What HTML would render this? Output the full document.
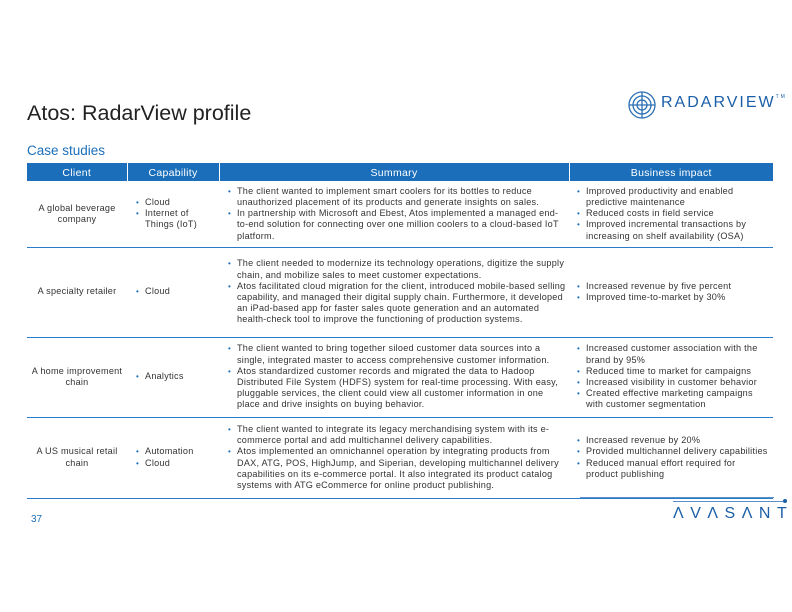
<!DOCTYPE html>
<html><head><meta charset="utf-8"><style>
body{margin:0;width:792px;height:612px;background:#fff;position:relative;overflow:hidden;font-family:"Liberation Sans",sans-serif;color:#333}
.a{position:absolute}
table{position:absolute;left:27px;top:163px;width:746px;border-collapse:collapse;font-size:9.1px;line-height:11.2px;letter-spacing:0.25px;table-layout:fixed}
th{background:#1b6fba;color:#fff;font-weight:normal;font-size:10.5px;height:16px;padding:2px 0 0 0;border-left:1.5px solid #fff;vertical-align:middle;letter-spacing:0.3px;line-height:14px}
th:first-child{border-left:none}
td{border-bottom:1.5px solid #2a7cc7;vertical-align:middle;padding:0 3px}
td.c{text-align:center}
ul{margin:0;padding:0 0 0 10px;list-style:none}
li{position:relative}
li:before{content:"•";position:absolute;left:-9px;color:#1b6fba;font-size:8px}
</style></head><body>
<div class="a" style="left:27px;top:101px;font-size:21.5px;color:#222">Atos: RadarView profile</div>
<div class="a" style="left:27px;top:143px;font-size:13.5px;color:#1b6fba">Case studies</div>
<svg class="a" style="left:627px;top:90px" width="30" height="30" viewBox="0 0 30 30"><g fill="none" stroke="#2a6fb5" stroke-width="1.3"><circle cx="15" cy="15" r="13"/><circle cx="15" cy="15" r="9"/><circle cx="15" cy="15" r="5"/><path d="M15 2v26M2 15h26"/></g></svg>
<div class="a" style="left:661px;top:94px;font-size:16px;letter-spacing:2px;color:#1b5fa8">RADARVIEW<span style="font-size:5px;vertical-align:top">TM</span></div>
<table>
<colgroup><col style="width:100px"><col style="width:92px"><col style="width:350px"><col></colgroup>
<tr><th>Client</th><th>Capability</th><th>Summary</th><th>Business impact</th></tr>
<tr style="height:66px"><td class="c">A global beverage company</td><td style="padding-left:8px"><ul><li>Cloud</li><li>Internet of Things (IoT)</li></ul></td><td style="padding-left:8px"><ul><li>The client wanted to implement smart coolers for its bottles to reduce unauthorized placement of its products and generate insights on sales.</li><li>In partnership with Microsoft and Ebest, Atos implemented a managed end-to-end solution for connecting over one million coolers to a cloud-based IoT platform.</li></ul></td><td style="padding-left:7px"><ul><li>Improved productivity and enabled predictive maintenance</li><li>Reduced costs in field service</li><li>Improved incremental transactions by increasing on shelf availability (OSA)</li></ul></td></tr>
<tr style="height:90px"><td class="c">A specialty retailer</td><td style="padding-left:8px"><ul><li>Cloud</li></ul></td><td style="padding-left:8px"><ul><li>The client needed to modernize its technology operations, digitize the supply chain, and mobilize sales to meet customer expectations.</li><li>Atos facilitated cloud migration for the client, introduced mobile-based selling capability, and managed their digital supply chain. Furthermore, it developed an iPad-based app for faster sales quote generation and an automated health-check tool to improve the functioning of production systems.</li></ul></td><td style="padding-left:7px"><ul><li>Increased revenue by five percent</li><li>Improved time-to-market by 30%</li></ul></td></tr>
<tr style="height:80px"><td class="c">A home improvement chain</td><td style="padding-left:8px"><ul><li>Analytics</li></ul></td><td style="padding-left:8px"><ul><li>The client wanted to bring together siloed customer data sources into a single, integrated master to access comprehensive customer information.</li><li>Atos standardized customer records and migrated the data to Hadoop Distributed File System (HDFS) system for real-time processing. With easy, pluggable services, the client could view all customer information in one place and drive insights on buying behavior.</li></ul></td><td style="padding-left:7px"><ul><li>Increased customer association with the brand by 95%</li><li>Reduced time to market for campaigns</li><li>Increased visibility in customer behavior</li><li>Created effective marketing campaigns with customer segmentation</li></ul></td></tr>
<tr style="height:81px"><td class="c">A US musical retail chain</td><td style="padding-left:8px"><ul><li>Automation</li><li>Cloud</li></ul></td><td style="padding-left:8px"><ul><li>The client wanted to integrate its legacy merchandising system with its e-commerce portal and add multichannel delivery capabilities.</li><li>Atos implemented an omnichannel operation by integrating products from DAX, ATG, POS, HighJump, and Siperian, developing multichannel delivery capabilities on its e-commerce portal. It also integrated its product catalog systems with ATG eCommerce for online product publishing.</li></ul></td><td style="padding-left:7px"><ul><li>Increased revenue by 20%</li><li>Provided multichannel delivery capabilities</li><li>Reduced manual effort required for product publishing</li></ul></td></tr>
</table>
<div class="a" style="left:31px;top:514px;font-size:10px;color:#1b6fba">37</div>
<div class="a" style="left:580px;top:497px;width:194px;height:1px;background:#5a8fcc"></div>
<div class="a" style="left:673px;top:501px;width:110px;height:1px;background:#5a8fcc"></div>
<div class="a" style="left:783px;top:499px;width:4px;height:4px;border-radius:2px;background:#1b5fa8"></div>
<div class="a" style="left:673px;top:505px;font-size:16px;letter-spacing:6.5px;color:#1b5fa8">ΛVΛSΛNT</div>
</body></html>
